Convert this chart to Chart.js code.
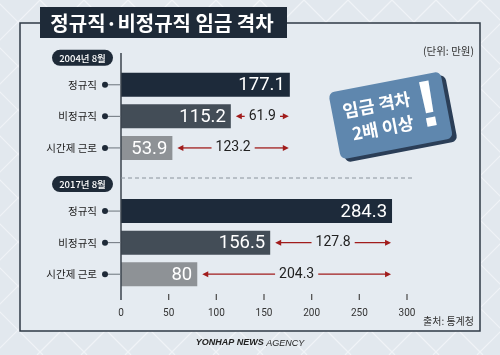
<!DOCTYPE html>
<html><head><meta charset="utf-8">
<script src="https://cdn.jsdelivr.net/npm/chart.js@4/dist/chart.umd.min.js"></script>
<style>html,body{margin:0;padding:0;background:#e3e9ef}#wrap{width:500px;height:355px}</style>
</head><body><div id="wrap"><canvas id="c" width="500" height="355"></canvas></div>
<script>
const title = '정규직·비정규직 임금 격차';
const periods = ['2004년 8월', '2017년 8월'];
const workTypes = ['정규직', '비정규직', '시간제 근로'];
const wage2004 = [177.1, 115.2, 53.9];
const wage2017 = [284.3, 156.5, 80];
const gap2004 = [null, 61.9, 123.2];
const gap2017 = [null, 127.8, 204.3];
const xTicks = [0, 50, 100, 150, 200, 250, 300];
const unitText = '(단위: 만원)';
const sourceText = '출처: 통계청';
const calloutLines = ['임금 격차', '2배 이상'];

const typeColors = ['#1d2a3a', '#434d57', '#8e9296'];
const labels = [...workTypes, '', ...workTypes];
const values = [...wage2004, null, ...wage2017];
const gaps = [...gap2004, null, ...gap2017];
const colors = [...typeColors, 'rgba(0,0,0,0)', ...typeColors];
const KR = '"Noto Sans CJK KR", "Noto Sans", sans-serif';

function arrowHead(ctx, x, y, dir) {
  ctx.beginPath();
  ctx.moveTo(x, y);
  ctx.lineTo(x - dir * 6, y - 3);
  ctx.lineTo(x - dir * 6, y + 3);
  ctx.closePath();
  ctx.fill();
}

const deco = {
  id: 'deco',
  beforeDraw(chart) {
    const ctx = chart.ctx;
    ctx.save();
    ctx.fillStyle = '#e2e8ee';
    ctx.fillRect(0, 0, 500, 355);
    ctx.strokeStyle = '#f0f3f7';
    ctx.lineWidth = 1.2;
    for (let k = -400; k < 900; k += 44) {
      ctx.beginPath(); ctx.moveTo(k, 0); ctx.lineTo(k + 355, 355); ctx.stroke();
      ctx.beginPath(); ctx.moveTo(k, 0); ctx.lineTo(k - 355, 355); ctx.stroke();
    }
    ctx.fillStyle = '#e5ebf1';
    ctx.fillRect(20, 23, 460, 308);
    ctx.strokeStyle = '#2f3a45';
    ctx.lineWidth = 1.5;
    ctx.beginPath();
    ctx.moveTo(40, 23); ctx.lineTo(20, 23); ctx.lineTo(20, 331); ctx.lineTo(480, 331); ctx.lineTo(480, 23); ctx.lineTo(287, 23);
    ctx.stroke();
    // title
    ctx.fillStyle = '#1e2a38';
    ctx.fillRect(40, 7, 247, 31);
    ctx.fillStyle = '#ffffff';
    ctx.font = 'bold 20px ' + KR;
    ctx.textAlign = 'center'; ctx.textBaseline = 'middle';
    ctx.fillText(title, 162, 23);
    // unit
    ctx.fillStyle = '#333';
    ctx.font = '10.5px ' + KR;
    ctx.textAlign = 'right';
    ctx.fillText(unitText, 474, 51);
    ctx.font = '10px ' + KR;
    ctx.fillText(sourceText, 474, 321);
    // agency
    ctx.textAlign = 'left';
    ctx.fillStyle = '#222';
    ctx.font = 'italic bold 9px "Liberation Sans", sans-serif';
    const a1 = 'YONHAP NEWS ';
    const w1 = ctx.measureText(a1).width;
    ctx.font = 'italic 9px "Liberation Sans", sans-serif';
    const w2 = ctx.measureText('AGENCY').width;
    const sx = 250 - (w1 + w2) / 2;
    ctx.font = 'italic bold 9px "Liberation Sans", sans-serif';
    ctx.fillText(a1, sx, 343);
    ctx.font = 'italic 9px "Liberation Sans", sans-serif';
    ctx.fillText('AGENCY', sx + w1, 343);
    ctx.restore();
  },
  afterDatasetsDraw(chart) {
    const ctx = chart.ctx;
    const xs = chart.scales.x, ys = chart.scales.y;
    const x0 = xs.getPixelForValue(0);
    ctx.save();
    // axis line
    ctx.strokeStyle = '#3a434d'; ctx.lineWidth = 1.5;
    ctx.beginPath(); ctx.moveTo(x0, 53); ctx.lineTo(x0, 300); ctx.stroke();
    // tick marks
    ctx.strokeStyle = '#555'; ctx.lineWidth = 1.3;
    xTicks.forEach(t => {
      if (t === 0) return;
      const px = xs.getPixelForValue(t);
      ctx.beginPath(); ctx.moveTo(px, 294); ctx.lineTo(px, 300); ctx.stroke();
    });
    // separator
    const ySep = ys.getPixelForValue(3) - 1.5;
    ctx.strokeStyle = '#8a939c'; ctx.lineWidth = 1; ctx.setLineDash([4, 3]);
    ctx.beginPath(); ctx.moveTo(x0, ySep); ctx.lineTo(413, ySep); ctx.stroke();
    ctx.setLineDash([]);
    // connectors & dots
    labels.forEach((l, i) => {
      if (!l) return;
      const py = ys.getPixelForValue(i);
      ctx.strokeStyle = '#6b737b'; ctx.lineWidth = 1;
      ctx.beginPath(); ctx.moveTo(105, py); ctx.lineTo(x0, py); ctx.stroke();
      ctx.fillStyle = '#1e2a38';
      ctx.beginPath(); ctx.arc(105, py, 3, 0, Math.PI * 2); ctx.fill();
    });
    // period badges
    [0, 4].forEach((idx, k) => {
      const py = ys.getPixelForValue(idx) - 27;
      const bx = 52, bw = 61, bh = 16;
      ctx.fillStyle = '#1e2a38';
      ctx.beginPath();
      ctx.roundRect(bx, py - bh / 2, bw, bh, bh / 2);
      ctx.fill();
      ctx.fillStyle = '#fff';
      ctx.font = '500 9.5px ' + KR;
      ctx.textAlign = 'center'; ctx.textBaseline = 'middle';
      ctx.fillText(periods[k], bx + bw / 2, py + 0.5);
    });
    // values
    values.forEach((v, i) => {
      if (v == null) return;
      const py = ys.getPixelForValue(i);
      const px = xs.getPixelForValue(v);
      ctx.fillStyle = '#fff';
      ctx.font = '18.5px Roboto, sans-serif';
      ctx.textAlign = 'right'; ctx.textBaseline = 'middle';
      ctx.fillText(String(v), px - 5, py + 1);
    });
    // gaps
    gaps.forEach((g, i) => {
      if (g == null) return;
      const grp = i < 3 ? 0 : 4;
      const py = ys.getPixelForValue(i);
      const xl = xs.getPixelForValue(values[i]) + 5;
      const xr = xs.getPixelForValue(values[grp]) - 1;
      ctx.font = '14px Roboto, sans-serif';
      const txt = String(g);
      const w = ctx.measureText(txt).width;
      const mid = (xl + xr) / 2;
      ctx.fillStyle = '#222';
      ctx.textAlign = 'center'; ctx.textBaseline = 'middle';
      ctx.fillText(txt, mid, py);
      ctx.strokeStyle = '#a11c1c'; ctx.fillStyle = '#a11c1c'; ctx.lineWidth = 1.3;
      ctx.beginPath(); ctx.moveTo(xl + 3, py); ctx.lineTo(mid - w / 2 - 4, py); ctx.stroke();
      ctx.beginPath(); ctx.moveTo(mid + w / 2 + 4, py); ctx.lineTo(xr - 3, py); ctx.stroke();
      arrowHead(ctx, xl, py, -1);
      arrowHead(ctx, xr, py, 1);
    });
    // callout
    ctx.translate(393, 117);
    ctx.rotate(-0.19);
    ctx.fillStyle = '#2b3e57';
    ctx.beginPath(); ctx.roundRect(-55, -32, 114, 68, 6); ctx.fill();
    ctx.fillStyle = '#5f87ae';
    ctx.beginPath(); ctx.roundRect(-59, -36, 114, 68, 6); ctx.fill();
    ctx.fillStyle = '#fff';
    ctx.textAlign = 'center'; ctx.textBaseline = 'middle';
    ctx.font = 'bold 17.5px ' + KR;
    ctx.fillText(calloutLines[0], -14, -15);
    ctx.fillText(calloutLines[1], -12, 9);
    ctx.font = 'bold 66px "Liberation Sans", sans-serif';
    ctx.fillText('!', 37, -2);
    ctx.restore();
  }
};

new Chart(document.getElementById('c'), {
  type: 'bar',
  data: {
    labels: labels,
    datasets: [{
      data: values,
      backgroundColor: colors,
      barPercentage: 0.76,
      categoryPercentage: 1.0
    }]
  },
  options: {
    indexAxis: 'y',
    responsive: false,
    animation: false,
    layout: { padding: { left: 0, top: 69, right: 93, bottom: 0 } },
    plugins: { legend: { display: false }, tooltip: { enabled: false } },
    scales: {
      x: {
        type: 'linear', min: 0, max: 300,
        afterBuildTicks: s => { s.ticks = xTicks.map(v => ({ value: v })); },
        afterFit: s => { s.height = 65; },
        grid: { display: false, drawTicks: false },
        border: { display: false },
        ticks: { padding: 17, color: '#333', font: { size: 10, family: 'Roboto, sans-serif' } }
      },
      y: {
        afterFit: s => { s.width = 121; },
        grid: { display: false, drawTicks: false },
        border: { display: false },
        ticks: { padding: 24, color: '#222', font: { size: 10.5, family: KR } }
      }
    }
  },
  plugins: [deco]
});
</script>
</body></html>
